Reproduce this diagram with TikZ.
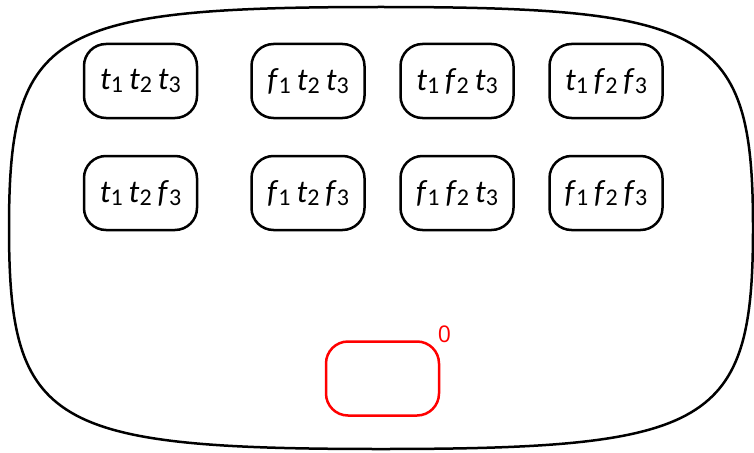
\documentclass[tikz,border=0pt]{standalone}
\usepackage{fontspec}
\newfontfamily\osans{Carlito}
\newfontfamily\zsans{Open Sans}
\newcommand{\lit}[2]{\textit{#1}\raisebox{-3pt}{\fontsize{24pt}{24pt}\selectfont #2}}
\newcommand{\wsp}{\hspace{6pt}}
\tikzset{
  world/.style={line width=2.5pt, draw=black, rounded corners=22pt, minimum width=113pt, minimum height=74pt, inner sep=0pt, font=\osans\fontsize{32pt}{32pt}\selectfont},
  zero/.style={world, draw=red}
}
\begin{document}
\begin{tikzpicture}[x=1pt,y=-1pt]
\useasboundingbox (0,0) rectangle (754,452);
\draw[line width=2.5pt] (9,228) .. controls (9,31) and (50,7) .. (381,7)
  .. controls (712,7) and (753,31) .. (753,228)
  .. controls (753,425) and (712,449) .. (381,449)
  .. controls (50,449) and (9,425) .. cycle;
\node[world] (a1) at (140.5,81) {\lit{t}{1}\wsp\lit{t}{2}\wsp\lit{t}{3}};
\node[world] (a2) at (308,81) {\lit{f}{1}\wsp\lit{t}{2}\wsp\lit{t}{3}};
\node[world] (a3) at (457,81) {\lit{t}{1}\wsp\lit{f}{2}\wsp\lit{t}{3}};
\node[world] (a4) at (606,81) {\lit{t}{1}\wsp\lit{f}{2}\wsp\lit{f}{3}};
\node[world] (b1) at (140.5,193) {\lit{t}{1}\wsp\lit{t}{2}\wsp\lit{f}{3}};
\node[world] (b2) at (308,193) {\lit{f}{1}\wsp\lit{t}{2}\wsp\lit{f}{3}};
\node[world] (b3) at (457,193) {\lit{f}{1}\wsp\lit{f}{2}\wsp\lit{t}{3}};
\node[world] (b4) at (606,193) {\lit{f}{1}\wsp\lit{f}{2}\wsp\lit{f}{3}};
\node[zero] (z) at (382.5,378.5) {};
\node[red, font=\zsans\fontsize{23pt}{23pt}\selectfont, inner sep=0pt] (zl) at (444.5,334.5) {0};
\end{tikzpicture}
\end{document}
